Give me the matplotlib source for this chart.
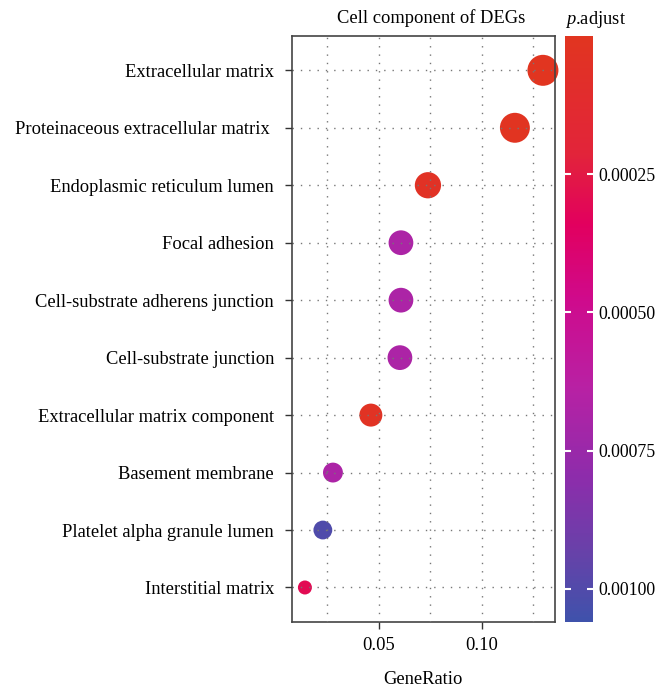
import numpy as np
import matplotlib
matplotlib.use("Agg")
import matplotlib.pyplot as plt
from matplotlib.colors import LinearSegmentedColormap, Normalize

plt.rcParams['font.family'] = ['Liberation Serif', 'DejaVu Serif']
plt.rcParams['mathtext.fontset'] = 'custom'
plt.rcParams['mathtext.it'] = 'Liberation Serif:italic'
plt.rcParams['mathtext.rm'] = 'Liberation Serif'

# data (top to bottom)
terms = ["Extracellular matrix", "Proteinaceous extracellular matrix ",
         "Endoplasmic reticulum lumen", "Focal adhesion",
         "Cell-substrate adherens junction", "Cell-substrate junction",
         "Extracellular matrix component", "Basement membrane",
         "Platelet alpha granule lumen", "Interstitial matrix"]
gene_ratio = [0.1296, 0.1160, 0.0738, 0.0607, 0.0607, 0.0602, 0.0461, 0.0277, 0.0228, 0.0141]
counts = [28, 25, 16, 13, 13, 13, 10, 6, 5, 3]
p_adjust = [0.000003, 0.000010, 0.000040, 0.00068, 0.00068, 0.00068, 0.000030, 0.00068, 0.00101, 0.00030]

cmap = LinearSegmentedColormap.from_list("padj", [
    (0.00, "#E13520"), (0.20, "#E2243A"), (0.32, "#E2005E"),
    (0.45, "#CF0A8C"), (0.60, "#B821A4"), (0.75, "#8E2CAB"),
    (0.88, "#6841A9"), (1.00, "#3F52AB")])
norm = Normalize(vmin=0.0, vmax=0.00106)

fs = 13.3

fig = plt.figure(figsize=(6.59, 6.92), dpi=100)
ax = fig.add_axes([0.443, 0.1012, 0.399, 0.847])

ypos = np.arange(len(terms))[::-1] + 1
# size: area palette like ggplot (radius in px from 7 to 15.5)
c = np.array(counts, dtype=float)
rescaled = (c - c.min()) / (c.max() - c.min())
radius_px = 7 + 8.5 * np.sqrt(rescaled)
sizes = (2 * radius_px * 0.72) ** 2

ax.scatter(gene_ratio, ypos, s=sizes, c=p_adjust, cmap=cmap, norm=norm,
           edgecolors='none', zorder=2, clip_on=False)

ax.set_xlim(0.0078, 0.1354)
ax.set_ylim(0.4, len(terms) + 0.6)
ax.set_yticks(ypos)
ax.set_yticklabels(terms, fontsize=fs)
ax.set_xticks([0.05, 0.10])
ax.set_xticklabels(["0.05", "0.10"], fontsize=fs)
ax.set_xticks([0.025, 0.075, 0.125], minor=True)
ax.tick_params(which='minor', length=0)
ax.tick_params(axis='y', which='major', length=5, width=1, color='#333333', pad=8)
ax.tick_params(axis='x', which='major', length=5, width=1, color='#333333', pad=6)
ax.grid(True, which='both', linestyle=(0, (1, 5)), color='#777777', linewidth=1.0, zorder=3)
ax.set_axisbelow(False)
for sp in ax.spines.values():
    sp.set_color('#444444')
    sp.set_linewidth(1.2)

ax.set_xlabel("GeneRatio", fontsize=fs, labelpad=12)
ax.set_title("Cell component of DEGs", fontsize=fs, pad=9, x=0.53)

cax = fig.add_axes([0.857, 0.1012, 0.0425, 0.847])
sm = plt.cm.ScalarMappable(cmap=cmap, norm=norm)
cb = fig.colorbar(sm, cax=cax)
cb.outline.set_visible(False)
cax.invert_yaxis()
cb.set_ticks([0.00025, 0.00050, 0.00075, 0.00100])
cb.set_ticklabels(["0.00025", "0.00050", "0.00075", "0.00100"])
cax.yaxis.set_ticks_position('both')
cax.tick_params(direction='in', color='white', length=4, width=1.5, labelsize=12.8,
                labelright=True, labelleft=False, pad=4)
fig.text(0.858, 0.966, r"$\it{p}$.adjust", fontsize=fs, ha='left', va='baseline')

fig.savefig("out.png", dpi=100)
